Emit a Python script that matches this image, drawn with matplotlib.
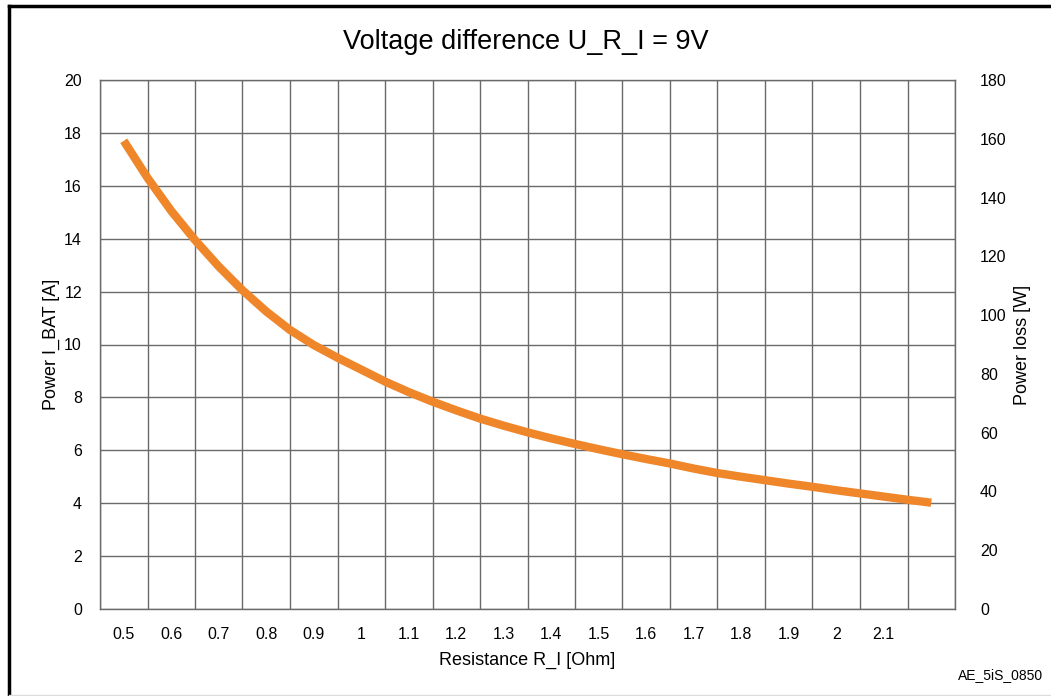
import matplotlib
matplotlib.use("Agg")
import numpy as np
from matplotlib import pyplot as plt
from matplotlib.lines import Line2D

plt.rcParams['font.family'] = ['Liberation Sans', 'DejaVu Sans']

# resistance R_I [Ohm] and battery current I_BAT [A]
resistance = [0.50, 0.55, 0.60, 0.65, 0.70, 0.75, 0.80, 0.85, 0.90, 0.95,
              1.00, 1.05, 1.10, 1.15, 1.20, 1.25, 1.30, 1.35, 1.40, 1.45,
              1.50, 1.55, 1.60, 1.65, 1.70, 1.75, 1.80, 1.85, 1.90, 1.95,
              2.00, 2.05, 2.10, 2.15, 2.20]
current = [17.7, 16.3, 15.05, 13.95, 12.95, 12.05, 11.25, 10.55, 9.98, 9.5,
           9.05, 8.6, 8.2, 7.84, 7.51, 7.2, 6.93, 6.68, 6.45, 6.24,
           6.04, 5.85, 5.67, 5.5, 5.31, 5.14, 5.0, 4.87, 4.74, 4.62,
           4.49, 4.37, 4.25, 4.13, 4.02]

x_labels = ['0.5', '0.6', '0.7', '0.8', '0.9', '1', '1.1', '1.2', '1.3', '1.4',
            '1.5', '1.6', '1.7', '1.8', '1.9', '2', '2.1']
x_centers = [0.5 + 0.1 * i for i in range(len(x_labels))]
x_bounds = [0.45 + 0.1 * i for i in range(19)]
left_ticks = list(range(0, 21, 2))
right_ticks = list(range(0, 181, 20))

fig = plt.figure(figsize=(10.51, 6.96), dpi=100)
ax = fig.add_axes([100 / 1051, 87 / 696, 855 / 1051, 529 / 696])

grid_col = '#6a6a6a'
ax.set_xlim(0.45, 2.25)
ax.set_ylim(0, 20)
ax.set_xticks(x_bounds)
ax.set_xticklabels([])
ax.set_xticks(x_centers, minor=True)
ax.set_xticklabels(x_labels, minor=True)
ax.set_yticks(left_ticks)
ax.grid(True, which='major', color=grid_col, lw=1.0)
ax.tick_params(axis='x', which='both', length=0, labelsize=11.5, pad=13)
ax.tick_params(axis='y', length=0, labelsize=11.5, pad=13)
for s in ax.spines.values():
    s.set_color(grid_col)
    s.set_linewidth(1.0)

ax.plot(resistance, current, color='#f0862a', lw=6, solid_capstyle='butt',
        solid_joinstyle='round', zorder=3)

ax.set_xlabel('Resistance R_I [Ohm]', fontsize=13, labelpad=7)
ax.set_ylabel('Power I_BAT [A]', fontsize=13, labelpad=3)

ax2 = ax.twinx()
ax2.set_ylim(0, 180)
ax2.set_yticks(right_ticks)
ax2.tick_params(axis='y', length=0, labelsize=11.5, pad=18)
for s in ax2.spines.values():
    s.set_visible(False)
ax2.set_ylabel('Power loss [W]', fontsize=13, labelpad=5)

fig.text(0.5, 1 - 42 / 696, 'Voltage difference U_R_I = 9V', fontsize=19.5,
         ha='center', va='center')
fig.text(1043 / 1051, 1 - 675 / 696, 'AE_5iS_0850', fontsize=10,
         ha='right', va='center')

# frame around the picture
fig.add_artist(Line2D([9 / 1051, 9 / 1051], [0, 1 - 6 / 696], color='black', lw=2.5))
fig.add_artist(Line2D([9 / 1051, 1], [1 - 6 / 696, 1 - 6 / 696], color='black', lw=2.5))
fig.add_artist(Line2D([9 / 1051, 1], [1.5 / 696, 1.5 / 696], color='#dddddd', lw=1))

fig.savefig('out.png', dpi=100)
